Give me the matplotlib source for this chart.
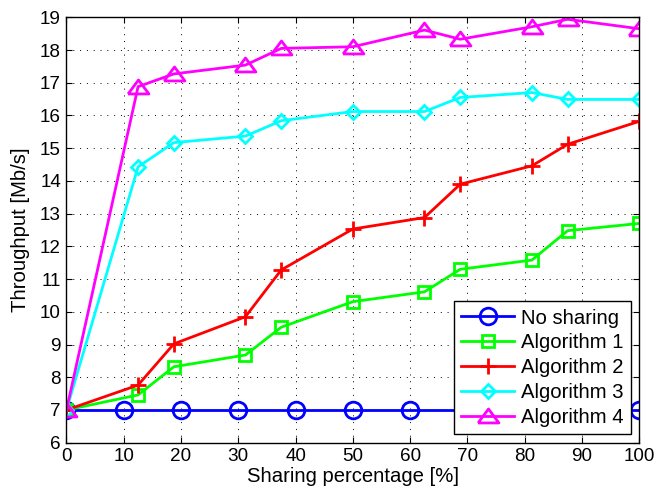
import numpy as np
import matplotlib
matplotlib.use('Agg')
import matplotlib.pyplot as plt

# data
x_ref = [0, 10, 20, 30, 40, 50, 60, 70, 80, 90, 100]
no_sharing = [7, 7, 7, 7, 7, 7, 7, 7, 7, 7, 7]

x_alg = [0, 12.5, 18.75, 31.25, 37.5, 50, 62.5, 68.75, 81.25, 87.5, 100]
alg1 = [7.0, 7.46, 8.32, 8.68, 9.53, 10.31, 10.61, 11.30, 11.58, 12.48, 12.70]
alg2 = [7.0, 7.76, 9.02, 9.85, 11.28, 12.53, 12.88, 13.90, 14.46, 15.12, 15.82]
alg3 = [7.0, 14.43, 15.17, 15.37, 15.84, 16.12, 16.12, 16.55, 16.70, 16.49, 16.49]
alg4 = [7.0, 16.88, 17.27, 17.54, 18.05, 18.10, 18.61, 18.33, 18.71, 18.94, 18.65]

labels = ['No sharing', 'Algorithm 1', 'Algorithm 2', 'Algorithm 3', 'Algorithm 4']

plt.rcParams['font.family'] = ['Liberation Sans', 'DejaVu Sans']
plt.rcParams['font.size'] = 14

# wide MATLAB-style triangle
tri = [(-1, -0.62), (1, -0.62), (0, 0.72), (-1, -0.62)]

fig = plt.figure(figsize=(6.58, 5.0), dpi=100)
ax = fig.add_axes([0.101, 0.1146, 0.8705, 0.8508])

lw = 2.0
common = dict(linewidth=lw, markeredgewidth=lw, markerfacecolor='none')
ax.plot(x_ref, no_sharing, color='#0000ff', marker='o', markersize=12, label=labels[0], **common)
ax.plot(x_alg, alg1, color='#00ff00', marker='s', markersize=8.5, label=labels[1], **common)
ax.plot(x_alg, alg2, color='#ff0000', marker='+', markersize=12, label=labels[2], **common)
ax.plot(x_alg, alg3, color='#00ffff', marker='D', markersize=7.2, label=labels[3], **common)
ax.plot(x_alg, alg4, color='#ff00ff', marker=tri, markersize=15, label=labels[4], **common)

ax.set_xlim(0, 100)
ax.set_ylim(6, 19)
ax.set_xticks(np.arange(0, 101, 10))
ax.set_yticks(np.arange(6, 20, 1))
ax.tick_params(direction='in', top=True, right=True, length=4, width=0.8, labelsize=13.6, pad=4)
ax.grid(True, color='black', linestyle=(0, (1, 6)), linewidth=0.7)
for s in ax.spines.values():
    s.set_linewidth(1.0)

ax.set_xlabel('Sharing percentage [%]', fontsize=14.6, labelpad=1)
ax.set_ylabel('Throughput [Mb/s]', fontsize=14.6, labelpad=7)

leg = ax.legend(loc='lower right', fontsize=14.6, handlelength=2.6, borderpad=0.35,
                labelspacing=0.29, handletextpad=0.35, borderaxespad=0.42, fancybox=False,
                framealpha=1, edgecolor='black')
leg.get_frame().set_linewidth(1.0)

fig.savefig('out.png', dpi=100)
